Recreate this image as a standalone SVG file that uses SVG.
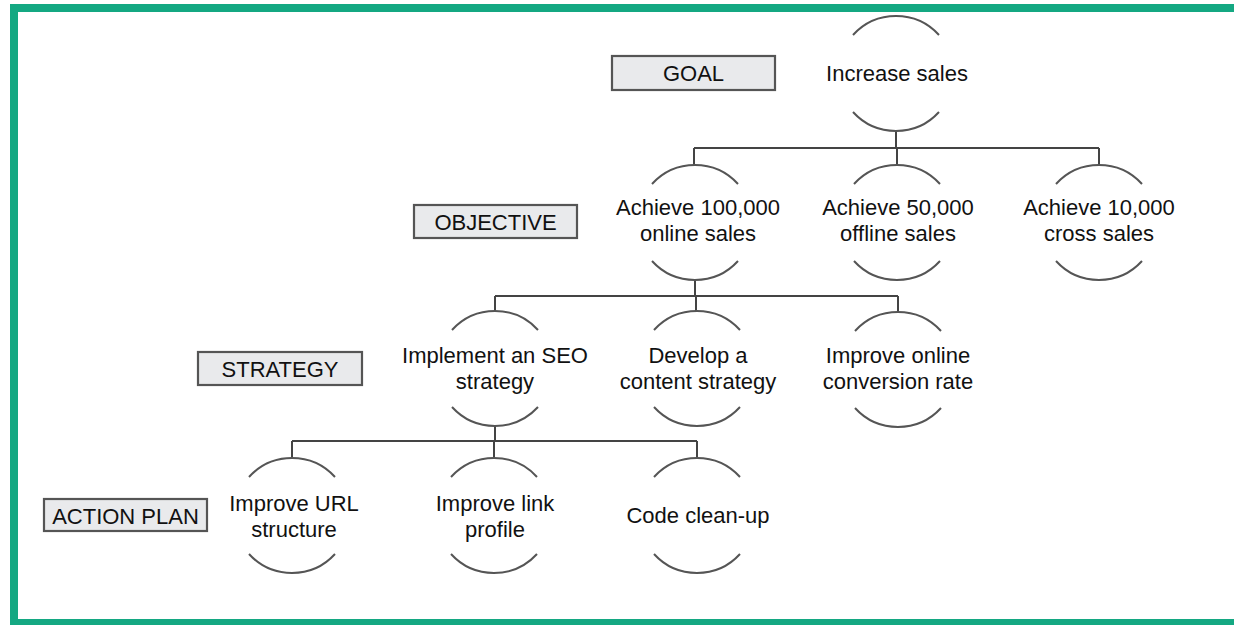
<svg xmlns="http://www.w3.org/2000/svg" width="1234" height="625" viewBox="0 0 1234 625">
<style>
.t{font-family:"Liberation Sans",Arial,sans-serif;font-size:22px;fill:#111;text-anchor:middle}
.lb{fill:#e9eaec;stroke:#555;stroke-width:2.2}
.arc{fill:none;stroke:#555;stroke-width:2}
.cn{fill:none;stroke:#444;stroke-width:2}
</style>
<defs>
<path id="arcs" d="M-43,19 A58.2,58.2 0 0 1 43,19 M-43,96 A58.2,58.2 0 0 0 43,96"/>
</defs>
<rect x="14" y="8" width="1232" height="615" fill="#fff" stroke="#14a882" stroke-width="8"/>

<g id="levels">
<g id="label-goal"><rect class="lb" x="612" y="56" width="163" height="34"/><text class="t" x="693.5" y="81">GOAL</text></g>
<g id="label-objective"><rect class="lb" x="414" y="205" width="163" height="33"/><text class="t" x="495.5" y="230">OBJECTIVE</text></g>
<g id="label-strategy"><rect class="lb" x="198" y="352" width="164" height="33"/><text class="t" x="280" y="377">STRATEGY</text></g>
<g id="label-action"><rect class="lb" x="44" y="499" width="163" height="32"/><text class="t" x="125.5" y="524">ACTION PLAN</text></g>
</g>

<g id="connectors">
<path class="cn" d="M896,131 V148 M694,148 H1099 M694,148 V165 M897,148 V165 M1099,148 V165"/>
<path class="cn" d="M695,280 V296 M495,296 H898 M495,296 V311 M696,296 V311 M898,296 V312"/>
<path class="cn" d="M495,427 V441 M292,441 H697 M292,441 V458 M494,441 V458 M697,441 V458"/>
</g>

<g id="n-goal"><use href="#arcs" class="arc" x="896" y="16"/><text class="t" x="897" y="81">Increase sales</text></g>

<g id="n-obj1"><use href="#arcs" class="arc" x="695" y="165"/><text class="t" x="698" y="215">Achieve 100,000</text><text class="t" x="698" y="241">online sales</text></g>
<g id="n-obj2"><use href="#arcs" class="arc" x="897" y="165"/><text class="t" x="898" y="215">Achieve 50,000</text><text class="t" x="898" y="241">offline sales</text></g>
<g id="n-obj3"><use href="#arcs" class="arc" x="1099" y="165"/><text class="t" x="1099" y="215">Achieve 10,000</text><text class="t" x="1099" y="241">cross sales</text></g>

<g id="n-str1"><use href="#arcs" class="arc" x="495" y="311"/><text class="t" x="495" y="363">Implement an SEO</text><text class="t" x="495" y="389">strategy</text></g>
<g id="n-str2"><use href="#arcs" class="arc" x="697" y="311"/><text class="t" x="698" y="363">Develop a</text><text class="t" x="698" y="389">content strategy</text></g>
<g id="n-str3"><use href="#arcs" class="arc" x="898" y="312"/><text class="t" x="898" y="363">Improve online</text><text class="t" x="898" y="389">conversion rate</text></g>

<g id="n-act1"><use href="#arcs" class="arc" x="292" y="458"/><text class="t" x="294" y="511">Improve URL</text><text class="t" x="294" y="537">structure</text></g>
<g id="n-act2"><use href="#arcs" class="arc" x="494" y="458"/><text class="t" x="495" y="511">Improve link</text><text class="t" x="495" y="537">profile</text></g>
<g id="n-act3"><use href="#arcs" class="arc" x="697" y="458"/><text class="t" x="698" y="523">Code clean-up</text></g>
</svg>
